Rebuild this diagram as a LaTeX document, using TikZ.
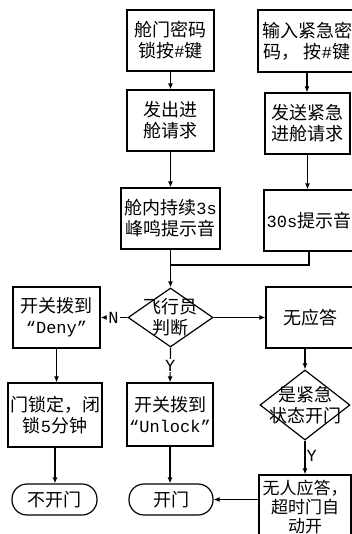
\documentclass[tikz,border=0pt]{standalone}
\usepackage{fontspec}
\setmainfont{Liberation Mono}
\newfontfamily\cjk{Noto Sans CJK SC}
\newfontfamily\lat{Liberation Mono}
\usetikzlibrary{arrows.meta,shapes.geometric}
\begin{document}
\begin{tikzpicture}[x=1pt,y=-1pt,
  box/.style={draw, line width=1.2pt, inner sep=0pt, align=center, font=\cjk\fontsize{18}{21}\selectfont},
  term/.style={box, rounded corners=15pt},
  dia/.style={draw, line width=1.2pt, diamond, inner sep=0pt},
  txt/.style={inner sep=0pt, align=center, font=\cjk\fontsize{18}{21}\selectfont},
  arr/.style={line width=1.2pt, -{Latex[length=6pt,width=5pt]}},
  ln/.style={line width=1.2pt},
  lab/.style={inner sep=1pt, font=\lat\fontsize{17}{17}\selectfont}]
\useasboundingbox (0,0) rectangle (352,534);
\fill[white] (0,0) rectangle (352,534);
\clip (0,0) rectangle (352,534);
\newcommand{\lt}[1]{{\lat\fontsize{17}{21}\selectfont #1}}
% top row
\node[box, minimum width=87pt, minimum height=61pt] (A) at (170.5,40.5) {舱门密码\\锁按\lt{\#}键};
\node[box, minimum width=98pt, minimum height=62pt] (B) at (307,41) {输入紧急密\\码，\ 按\lt{\#}键};
\node[box, minimum width=87pt, minimum height=61pt] (C) at (170.5,120.5) {发出进\\舱请求};
\node[box, minimum width=85pt, minimum height=61pt] (D) at (307.5,123.5) {发送紧急\\进舱请求};
\node[box, minimum width=99pt, minimum height=61pt] (E) at (170.5,218.5) {舱内持续\lt{3s}\\峰鸣提示音};
\node[box, minimum width=90pt, minimum height=61pt] (F) at (309,220.5) {\lt{30s}提示音};
% decision
\node[dia, minimum width=85pt, minimum height=59pt] (G) at (170.5,317.5) {};
\node[txt] (Gt) at (G.center) {飞行员\\判断};
\node[box, minimum width=87pt, minimum height=61pt] (H) at (56.5,317.5) {开关拨到\\\lt{“Deny”}};
\node[box, minimum width=88pt, minimum height=61pt] (I) at (310,317.5) {无应答};
\node[box, minimum width=94pt, minimum height=64pt] (J) at (55,415) {门锁定，闭\\锁\lt{5}分钟};
\node[box, minimum width=86pt, minimum height=63pt] (L) at (170,414.5) {开关拨到\\\lt{“Unlock”}};
\node[dia, minimum width=90pt, minimum height=70pt] (N) at (305,405) {};
\node[txt] (Nt) at (N.center) {是紧急\\状态开门};
\node[term, minimum width=85pt, minimum height=31pt] (K) at (54.5,499.5) {不开门};
\node[term, minimum width=84pt, minimum height=31pt] (M) at (171,499.5) {开门};
\node[box, minimum width=92pt, minimum height=64pt, font=\cjk\fontsize{17}{18.5}\selectfont] (O) at (305,507) {无人应答，\\超时门自\\动开};
% connectors
\draw[arr] (A.south) -- (C.north);
\draw[arr] (B.south) -- (B.south |- D.north);
\draw[arr] (C.south) -- (E.north);
\draw[arr] (D.south) -- (D.south |- F.north);
\coordinate (mg) at (170.5,265);
\draw[ln] (F.south) |- (mg);
\draw[arr] (E.south) -- (G.north);
\draw[arr] (G.west) -- node[lab, fill=white, pos=0.52] {N} (H.east);
\draw[arr] (G.east) -- (I.west);
\draw[arr] (G.south) -- node[lab, fill=white, pos=0.52] {Y} (L.north);
\draw[arr] (H.south) -- (H.south |- J.north);
\draw[arr] (J.south) -- (J.south |- K.north);
\draw[arr] (L.south) -- (L.south |- M.north);
\draw[arr] (N.north |- I.south) -- (N.north);
\draw[arr] (N.south) -- node[lab, right, pos=0.45] {Y} (O.north);
\draw[arr] (O.west |- M.east) -- (M.east);
\end{tikzpicture}
\end{document}
